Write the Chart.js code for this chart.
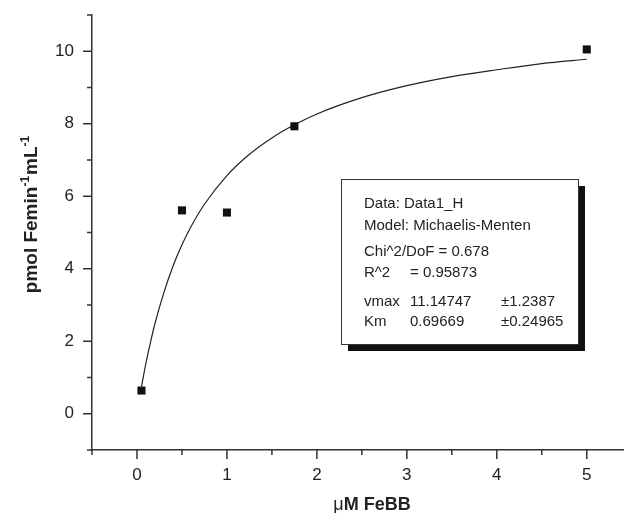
<!DOCTYPE html>
<html>
<head>
<meta charset="UTF-8">
<title>Michaelis-Menten fit, FeBB</title>
<script src="https://cdn.jsdelivr.net/npm/chart.js"></script>
<style>
  html, body { margin: 0; padding: 0; background: #fff; }
  #wrap { width: 624px; height: 513px; }
</style>
</head>
<body>
<div id="wrap"><canvas id="chart" width="624" height="513"></canvas></div>
<script>
// measured points (uM FeBB vs pmol Fe min-1 mL-1)
const febbConc = [0.05, 0.5, 1.0, 1.75, 5.0];
const feRate = [0.64, 5.61, 5.55, 7.93, 10.05];

// fitted curve
const fitX = [0.05, 0.1, 0.15, 0.2, 0.3, 0.4, 0.5, 0.6, 0.75, 1.0, 1.25, 1.5, 1.75, 2.0, 2.5, 3.0, 3.5, 4.0, 4.5, 5.0];
const fitY = [0.75, 1.40, 1.97, 2.49, 3.35, 4.07, 4.66, 5.16, 5.78, 6.57, 7.16, 7.61, 7.97, 8.27, 8.72, 9.05, 9.30, 9.49, 9.66, 9.78];

const xTicks = [0, 1, 2, 3, 4, 5];
const xMinor = [-0.5, 0.5, 1.5, 2.5, 3.5, 4.5];
const yTicks = [0, 2, 4, 6, 8, 10];
const yMinor = [-1, 1, 3, 5, 7, 9, 11];

// text in the fit box: [text, column, row]
const boxLines = [
  ["Data: Data1_H", 0, 0],
  ["Model: Michaelis-Menten", 0, 1],
  ["Chi^2/DoF = 0.678", 0, 2],
  ["R^2", 0, 3], ["= 0.95873", 1, 3],
  ["vmax", 0, 4], ["11.14747", 1, 4], ["\u00b11.2387", 2, 4],
  ["Km", 0, 5], ["0.69669", 1, 5], ["\u00b10.24965", 2, 5]
];

const INK = '#222';
const FONT = '"Liberation Sans", Arial, sans-serif';

const decor = {
  id: 'decor',
  afterDatasetsDraw(chart) {
    const ctx = chart.ctx;
    const xs = chart.scales.x, ys = chart.scales.y;
    const area = chart.chartArea;
    ctx.save();
    ctx.strokeStyle = '#333';
    ctx.lineWidth = 1.5;
    // tick marks, outside
    ctx.beginPath();
    yTicks.forEach(v => { const p = ys.getPixelForValue(v); ctx.moveTo(area.left - 9, p); ctx.lineTo(area.left, p); });
    yMinor.forEach(v => { const p = ys.getPixelForValue(v); ctx.moveTo(area.left - 5, p); ctx.lineTo(area.left, p); });
    xTicks.forEach(v => { const p = xs.getPixelForValue(v); ctx.moveTo(p, area.bottom); ctx.lineTo(p, area.bottom + 9); });
    xMinor.forEach(v => { const p = xs.getPixelForValue(v); ctx.moveTo(p, area.bottom); ctx.lineTo(p, area.bottom + 5); });
    ctx.stroke();

    // fit result box with drop shadow
    const bx = 341, by = 179, bw = 237, bh = 165;
    ctx.fillStyle = '#111';
    ctx.fillRect(bx + 7, by + 7, bw, bh);
    ctx.fillStyle = '#fff';
    ctx.fillRect(bx, by, bw, bh);
    ctx.lineWidth = 1;
    ctx.strokeStyle = '#333';
    ctx.strokeRect(bx + 0.5, by + 0.5, bw, bh);

    ctx.fillStyle = INK;
    ctx.font = '15px ' + FONT;
    ctx.textBaseline = 'middle';
    ctx.textAlign = 'left';
    const cols = [bx + 23, bx + 69, bx + 160];
    const rows = [25, 47, 73, 94, 123, 143];
    boxLines.forEach(l => ctx.fillText(l[0], cols[l[1]], by + rows[l[2]]));

    // x axis title
    ctx.textBaseline = 'alphabetic';
    const mu = '\u03bc';
    ctx.font = 'bold 18px ' + FONT;
    const rest = 'M FeBB';
    const wRest = ctx.measureText(rest).width;
    ctx.font = '18px ' + FONT;
    const wMu = ctx.measureText(mu).width;
    let tx = 372 - (wMu + wRest) / 2;
    ctx.fillText(mu, tx, 510);
    ctx.font = 'bold 18px ' + FONT;
    ctx.fillText(rest, tx + wMu, 510);

    // y axis title with superscripts
    const parts = [['pmol Femin', false], ['-1', true], ['mL', false], ['-1', true]];
    const big = 'bold 19px ' + FONT, small = 'bold 12px ' + FONT;
    let total = 0;
    parts.forEach(p => { ctx.font = p[1] ? small : big; total += ctx.measureText(p[0]).width + (p[1] ? 1 : 0); });
    ctx.translate(30, 214);
    ctx.rotate(-Math.PI / 2);
    let px = -total / 2;
    parts.forEach(p => {
      ctx.font = p[1] ? small : big;
      ctx.fillText(p[0], px, p[1] ? -1 : 7);
      px += ctx.measureText(p[0]).width + (p[1] ? 1 : 0);
    });
    ctx.restore();
  }
};

new Chart(document.getElementById('chart').getContext('2d'), {
  type: 'scatter',
  data: {
    datasets: [
      {
        label: 'fit',
        data: fitX.map((x, i) => ({ x: x, y: fitY[i] })),
        showLine: true,
        borderColor: INK,
        borderWidth: 1.2,
        pointRadius: 0,
        cubicInterpolationMode: 'monotone',
        order: 2
      },
      {
        label: 'Data1_H',
        data: febbConc.map((x, i) => ({ x: x, y: feRate[i] })),
        pointStyle: 'rect',
        pointRadius: 5.7,
        backgroundColor: '#111',
        borderColor: '#111',
        borderWidth: 0,
        order: 1
      }
    ]
  },
  options: {
    responsive: false,
    animation: false,
    layout: { autoPadding: false, padding: { top: 15, left: 0, right: 0, bottom: 0 } },
    plugins: { legend: { display: false }, tooltip: { enabled: false } },
    scales: {
      x: {
        type: 'linear', min: -0.5, max: 5.414,
        afterBuildTicks: s => { s.ticks = xTicks.map(v => ({ value: v })); },
        afterFit: s => { s.height = 63; s.paddingLeft = 0; s.paddingRight = 0; },
        grid: { drawOnChartArea: false, drawTicks: false },
        border: { color: '#333', width: 1.5 },
        ticks: { color: INK, font: { family: FONT, size: 17 }, padding: 15, maxRotation: 0, autoSkip: false }
      },
      y: {
        type: 'linear', min: -1, max: 11,
        afterBuildTicks: s => { s.ticks = yTicks.map(v => ({ value: v })); },
        afterFit: s => { s.width = 92; s.paddingTop = 0; s.paddingBottom = 0; },
        grid: { drawOnChartArea: false, drawTicks: false },
        border: { color: '#333', width: 1.5 },
        ticks: { color: INK, font: { family: FONT, size: 17 }, padding: 18, autoSkip: false }
      }
    }
  },
  plugins: [decor]
});
</script>
</body>
</html>
